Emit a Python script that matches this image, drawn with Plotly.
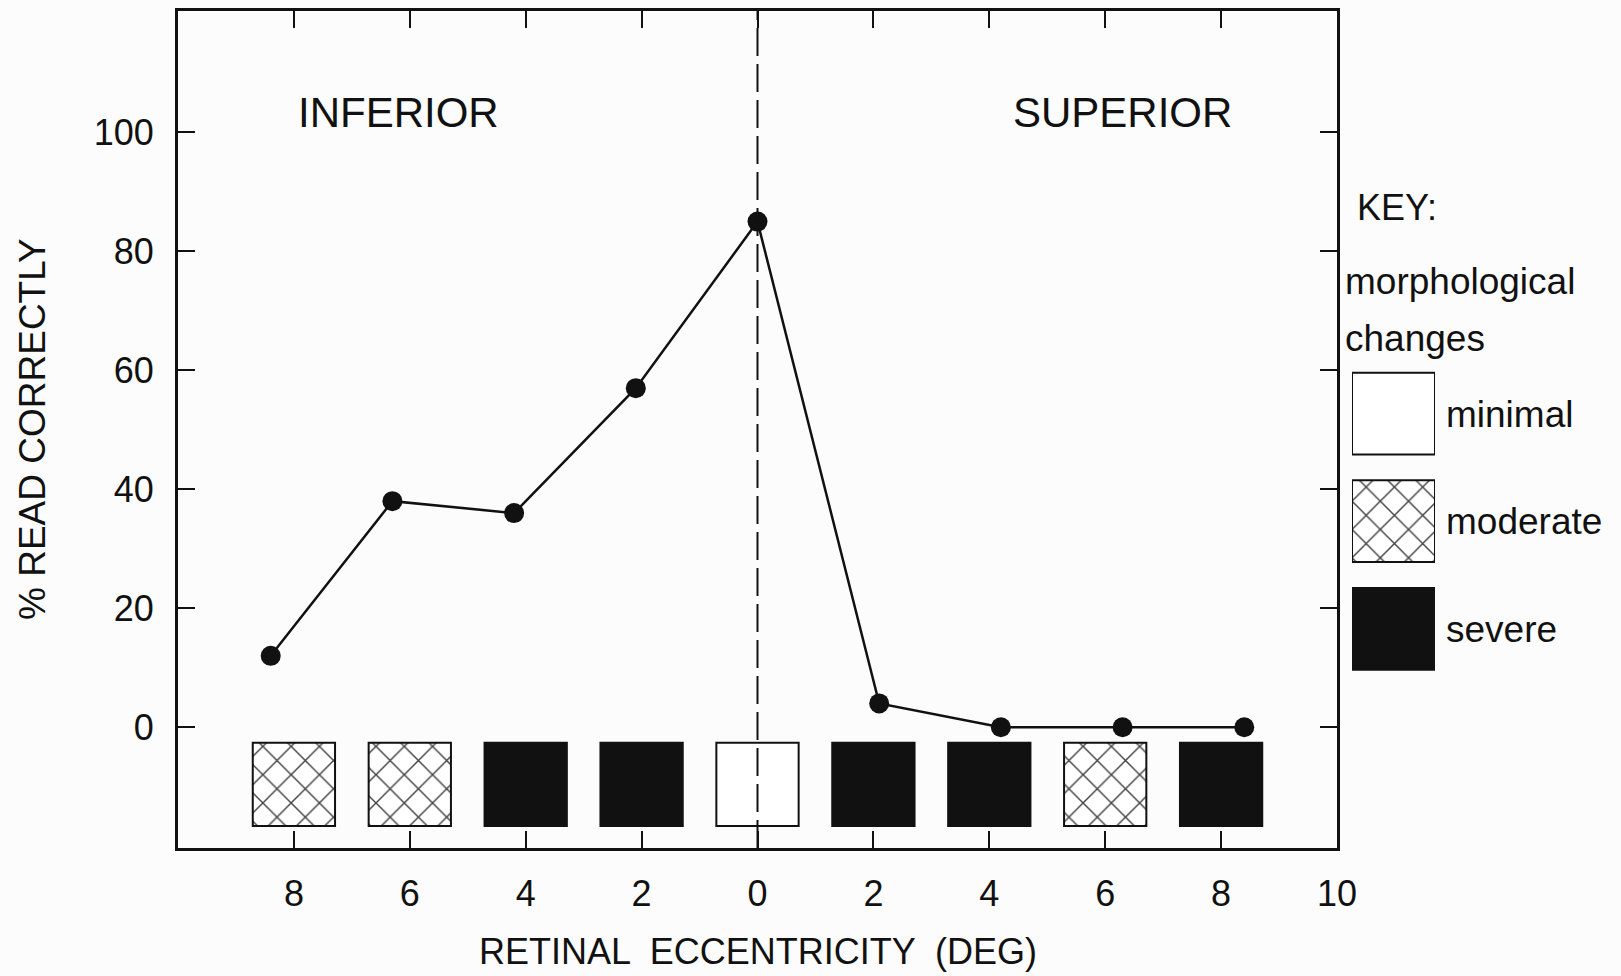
import plotly.graph_objects as go

# Reading performance across retinal eccentricity
eccentricity = [-8.4, -6.3, -4.2, -2.1, 0.0, 2.1, 4.2, 6.3, 8.4]
percent_correct = [12, 38, 36, 57, 85, 4, 0, 0, 0]

# Morphological grading of the retina at each tick location
grade_positions = [-8, -6, -4, -2, 0, 2, 4, 6, 8]
grades = ["moderate", "moderate", "severe", "severe", "minimal",
          "severe", "severe", "moderate", "severe"]

key_grades = ["minimal", "moderate", "severe"]

x_tickvals = [-8, -6, -4, -2, 0, 2, 4, 6, 8, 10]
x_ticktext = ["8", "6", "4", "2", "0", "2", "4", "6", "8", "10"]
y_tickvals = [0, 20, 40, 60, 80, 100]

FONT = "Liberation Sans, Arial, Helvetica, sans-serif"
INK = "#111111"

fill_color = {"minimal": "white", "moderate": "white", "severe": INK}
fill_pattern = {"minimal": "", "moderate": "x", "severe": ""}


def bar_marker(names):
    return dict(
        color=[fill_color[g] for g in names],
        line=dict(color=INK, width=2),
        pattern=dict(shape=[fill_pattern[g] for g in names], fgcolor=INK,
                     fgopacity=1, size=20, solidity=0.14, fillmode="overlay"),
    )


fig = go.Figure()

# grading boxes under the curve
box_bottom, box_top = -16.6, -2.6
fig.add_trace(go.Bar(
    x=grade_positions,
    y=[box_top - box_bottom] * len(grade_positions),
    base=[box_bottom] * len(grade_positions),
    width=1.42,
    marker=bar_marker(grades),
    showlegend=False,
    hoverinfo="skip",
))

# reading performance line
fig.add_trace(go.Scatter(
    x=eccentricity,
    y=percent_correct,
    mode="lines+markers",
    line=dict(color=INK, width=2.5),
    marker=dict(color=INK, size=20),
    showlegend=False,
))

# key boxes, drawn on their own small axes at the right
fig.add_trace(go.Bar(
    y=key_grades,
    x=[1, 1, 1],
    orientation="h",
    width=0.76,
    marker=bar_marker(key_grades),
    xaxis="x2",
    yaxis="y2",
    showlegend=False,
    hoverinfo="skip",
))

W, H = 1621, 976
ML, MR, MT, MB = 178, 40, 8, 128
pw = W - ML - MR
ph = H - MT - MB


def px_x(px):
    return (px - ML) / pw


def px_y(py):
    return (H - MB - py) / ph


main_right = px_x(1337)

fig.update_layout(
    width=W, height=H,
    margin=dict(l=ML, r=MR, t=MT, b=MB, pad=0),
    paper_bgcolor="#fcfcfc",
    plot_bgcolor="#fcfcfc",
    font=dict(family=FONT, color=INK, size=36),
    barmode="overlay",
    xaxis=dict(
        domain=[0, main_right],
        range=[-10, 10],
        tickvals=x_tickvals,
        ticktext=x_ticktext,
        ticks="inside", ticklen=17, tickwidth=2, tickcolor=INK,
        showline=True, linewidth=3, linecolor=INK, mirror="ticks",
        showgrid=False, zeroline=False,
        tickfont=dict(size=36),
        ticklabelstandoff=12,
    ),
    yaxis=dict(
        range=[-20.3, 120.4],
        tickvals=y_tickvals,
        ticks="inside", ticklen=17, tickwidth=2, tickcolor=INK,
        showline=True, linewidth=3, linecolor=INK, mirror="ticks",
        showgrid=False, zeroline=False,
        tickfont=dict(size=36),
        ticklabelstandoff=14,
    ),
    xaxis2=dict(
        domain=[px_x(1352), px_x(1435)],
        range=[0, 1],
        anchor="y2",
        visible=False,
    ),
    yaxis2=dict(
        domain=[px_y(682), px_y(358)],
        anchor="x2",
        side="right",
        autorange="reversed",
        showline=False, showgrid=False, zeroline=False,
        ticks="",
        tickfont=dict(size=37),
        ticklabelstandoff=10,
    ),
    shapes=[
        dict(type="line", xref="x", yref="paper", x0=0, x1=0, y0=0, y1=1,
             line=dict(color=INK, width=2, dash="28px,8px")),
    ],
)

annotations = [
    dict(text="INFERIOR", x=-6.2, y=103.3, xref="x", yref="y",
         font=dict(size=42)),
    dict(text="SUPERIOR", x=6.3, y=103.3, xref="x", yref="y",
         font=dict(size=42)),
    dict(text="% READ CORRECTLY", x=px_x(10), y=0.5, xref="paper", yref="paper",
         textangle=-90, font=dict(size=37)),
    dict(text="RETINAL  ECCENTRICITY  (DEG)", x=0, y=px_y(952), xref="x", yref="paper",
         font=dict(size=36)),
    dict(text="KEY:", x=px_x(1355), y=px_y(205), xref="paper", yref="paper",
         xanchor="left", font=dict(size=36)),
    dict(text="morphological", x=px_x(1343), y=px_y(279), xref="paper", yref="paper",
         xanchor="left", font=dict(size=37)),
    dict(text="changes", x=px_x(1343), y=px_y(337), xref="paper", yref="paper",
         xanchor="left", font=dict(size=37)),
]
for a in annotations:
    a.setdefault("showarrow", False)
    a.setdefault("yanchor", "middle")
fig.update_layout(annotations=annotations)

fig.write_html("out.html")
